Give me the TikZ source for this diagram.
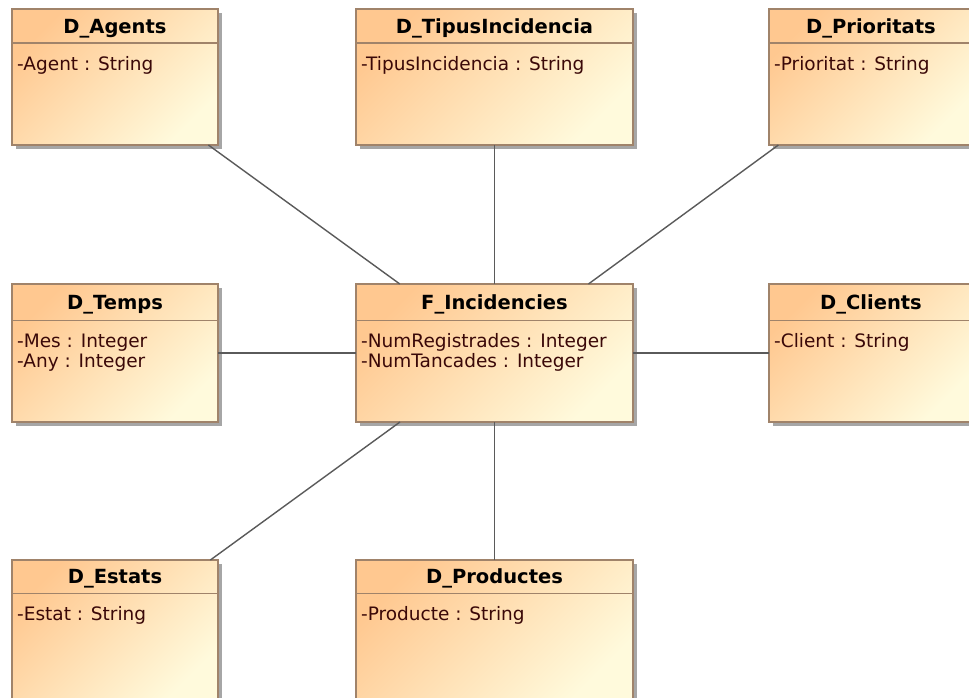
\documentclass[tikz,border=0pt]{standalone}
\usepackage{fontspec}
\setmainfont{DejaVu Sans}
\usetikzlibrary{calc,shadows}

\definecolor{peach}{HTML}{FFC890}
\definecolor{cream}{HTML}{FFFADC}
\definecolor{umlborder}{HTML}{A0836A}
\definecolor{attrtext}{HTML}{3A0808}
\definecolor{linkgray}{HTML}{5A5A5A}

\tikzset{
  umlclass/.style={rectangle, anchor=north west, inner sep=0pt, outer sep=0pt,
    draw=umlborder, line width=1.5pt,
    top color=peach, bottom color=cream, shading angle=45,
    drop shadow={shadow xshift=4pt, shadow yshift=-4pt, fill=black!35, opacity=1}},
  classtitle/.style={font=\fontsize{19.5}{22}\selectfont\bfseries, text=black,
    inner sep=0pt, anchor=base},
  attr/.style={font=\fontsize{18.5}{20}\selectfont, text=attrtext,
    inner sep=0pt, anchor=base west},
  headsep/.style={draw=umlborder, line width=1.5pt},
  link/.style={draw=linkgray, line width=1.4pt},
}

% class box: name, x, y, width, height, header height, title
\newcommand\umlbox[7]{%
  \node[umlclass, minimum width=#4pt, minimum height=#5pt] (#1) at (#2,#3) {};
  \node[classtitle] (#1-title) at ($(#1.north)+(0,#6*0.5+7)$) {#7};
  \draw[headsep] ($(#1.north west)+(0,#6)$) -- ($(#1.north east)+(0,#6)$);
}
% attribute line: node name, class, header height, line index, text
\newcommand\umlattr[5]{%
  \node[attr] (#1) at ($(#2.north west)+(5,#3+27+20*#4)$) {#5};
}

\begin{document}
\begin{tikzpicture}[x=1pt,y=-1pt]
  \useasboundingbox (0,0) rectangle (969,697);
  \fill[white] (0,0) rectangle (969,697);
  \clip (0,0) rectangle (969,697);

  % top row
  \umlbox{ag}{12}{9}{206}{136}{34}{D\_Agents}
  \umlattr{ag-a1}{ag}{34}{0}{-Agent : String}
  \umlbox{ti}{356}{9}{277}{136}{34}{D\_TipusIncidencia}
  \umlattr{ti-a1}{ti}{34}{0}{-TipusIncidencia : String}
  \umlbox{pr}{769}{9}{204}{136}{34}{D\_Prioritats}
  \umlattr{pr-a1}{pr}{34}{0}{-Prioritat : String}

  % middle row
  \umlbox{te}{12}{284}{206}{138}{36.5}{D\_Temps}
  \umlattr{te-a1}{te}{36.5}{0}{-Mes : Integer}
  \umlattr{te-a2}{te}{36.5}{1}{-Any : Integer}
  \umlbox{fi}{356}{284}{277}{138}{36.5}{F\_Incidencies}
  \umlattr{fi-a1}{fi}{36.5}{0}{-NumRegistrades : Integer}
  \umlattr{fi-a2}{fi}{36.5}{1}{-NumTancades : Integer}
  \umlbox{cl}{769}{284}{204}{138}{36.5}{D\_Clients}
  \umlattr{cl-a1}{cl}{36.5}{0}{-Client : String}

  % bottom row
  \umlbox{es}{12}{560}{206}{139}{33.5}{D\_Estats}
  \umlattr{es-a1}{es}{33.5}{0}{-Estat : String}
  \umlbox{pd}{356}{560}{277}{139}{33.5}{D\_Productes}
  \umlattr{pd-a1}{pd}{33.5}{0}{-Producte : String}

  % associations of the fact table
  \draw[link] (ag) -- (fi);
  \draw[link] (ti) -- (fi);
  \draw[link] (pr) -- (fi);
  \draw[link] (te) -- (fi);
  \draw[link] (fi) -- (cl);
  \draw[link] (fi) -- (es);
  \draw[link] (fi) -- (pd);
\end{tikzpicture}
\end{document}
